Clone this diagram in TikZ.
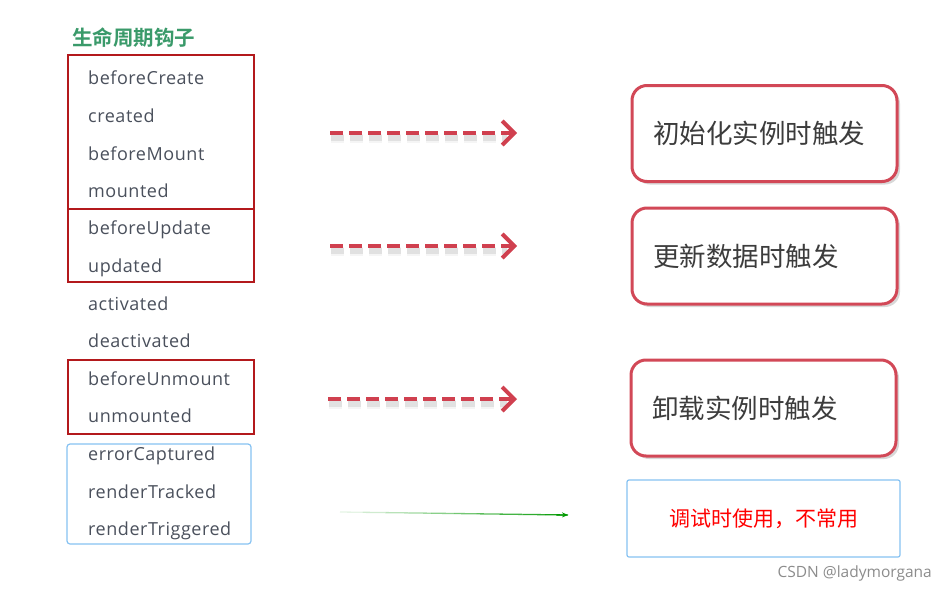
\documentclass[tikz,border=0pt]{standalone}
\usepackage{fontspec}
\setmainfont{Open Sans}
\newfontfamily\hookfont[LetterSpace=3]{Open Sans}
\newfontfamily\cjk{Noto Sans CJK SC}
\newfontfamily\cjkb{Noto Sans CJK SC Bold}
\usetikzlibrary{shadows,arrows.meta,calc}
\definecolor{hookgray}{HTML}{4A505C}
\definecolor{boxred}{HTML}{B3191C}
\definecolor{arrred}{HTML}{D0404F}
\definecolor{rbord}{HTML}{D24857}
\definecolor{lblue}{HTML}{86C2F2}
\definecolor{titlegreen}{HTML}{3A9A6A}
\definecolor{txtdark}{HTML}{3C3C3C}
\tikzset{
  hook/.style={anchor=base west, inner sep=0pt, text=hookgray, font=\hookfont\fontsize{18}{18}\selectfont},
  redframe/.style={draw=boxred, line width=2.8pt},
  dasharrow/.style={draw=arrred, line width=4pt, dash pattern=on 13pt off 6pt, -{Straight Barb[length=12pt,width=24pt,line width=4pt]}},
  dashshadow/.style={draw=black, line width=6pt, dash pattern=on 13pt off 6pt, opacity=0.08},
  eventbox/.style={draw=rbord, line width=3pt, rounded corners=15pt, fill=white, minimum width=265pt, minimum height=96pt, text width=223pt, align=left, text=txtdark, font=\cjk\fontsize{26.5}{26.5}\selectfont, drop shadow={shadow xshift=3pt, shadow yshift=-3pt, opacity=0.3}},
}
\begin{document}
\begin{tikzpicture}[x=1pt,y=-1pt]
\useasboundingbox (0,0) rectangle (946,592);
\fill[white] (0,0) rectangle (946,592);
\node[anchor=west, inner sep=0pt, text=titlegreen, font=\cjkb\fontsize{20.5}{20.5}\selectfont] (title) at (72,38) {生命周期钩子};
% frames
\draw[redframe] (68,55) rectangle (254,209);
\draw[redframe] (68,209) rectangle (254,282);
\draw[redframe] (68,360) rectangle (254,434);
\draw[draw=lblue, line width=1.2pt, rounded corners=3pt] (67,444) rectangle (251,544);
% hooks
\node[hook] (h1) at (88,84.5) {beforeCreate};
\node[hook] (h2) at (88,122.5) {created};
\node[hook] (h3) at (88,160.5) {beforeMount};
\node[hook] (h4) at (88,197.5) {mounted};
\node[hook] (h5) at (88,234.5) {beforeUpdate};
\node[hook] (h6) at (88,272.5) {updated};
\node[hook] (h7) at (88,310.5) {activated};
\node[hook] (h8) at (88,347.5) {deactivated};
\node[hook] (h9) at (88,385.5) {beforeUnmount};
\node[hook] (h10) at (88,422.5) {unmounted};
\node[hook] (h11) at (88,460.5) {errorCaptured};
\node[hook] (h12) at (88,498.5) {renderTracked};
\node[hook] (h13) at (88,535.5) {renderTriggered};
% event boxes
\node[eventbox] (e1) at (764.5,133.5) {初始化实例时触发};
\node[eventbox] (e2) at (764.5,256) {更新数据时触发};
\node[eventbox] (e3) at (763.5,408) {卸载实例时触发};
\node[draw=lblue, line width=1.2pt, rounded corners=2pt, minimum width=273pt, minimum height=77pt, text=red, font=\cjk\fontsize{21}{21}\selectfont] (e4) at (763.5,518.5) {调试时使用，不常用};
% arrows
\coordinate (a1s) at (330,133); \coordinate (a1e) at (517,133);
\coordinate (a2s) at (330,246); \coordinate (a2e) at (517,246);
\coordinate (a3s) at (328,399); \coordinate (a3e) at (517,399);
\foreach \s/\e in {a1s/a1e,a2s/a2e,a3s/a3e}{
  \draw[dashshadow] ([xshift=1pt,yshift=-5pt]\s) -- ([xshift=-10pt,yshift=-5pt]\e);
  \draw[dashshadow, line width=9pt, opacity=0.04] ([xshift=1pt,yshift=-5pt]\s) -- ([xshift=-10pt,yshift=-5pt]\e);
  \draw[dasharrow] (\s) -- (\e);
}
\coordinate (gs) at (340,512); \coordinate (ge) at (568,515);
\foreach \i in {0,...,9}{
  \pgfmathsetmacro{\op}{0.1+0.09*\i}
  \draw[line width=1.3pt, green!60!black, opacity=\op] ($(gs)!\i/10!(ge)$) -- ($(gs)!\i/10+0.1!(ge)$);
}
\draw[line width=1.3pt, green!60!black, -{Stealth[length=6pt,width=5pt]}] ($(gs)!0.95!(ge)$) -- (ge);
% watermark
\node[anchor=east, inner sep=0pt, text=black!45, font=\fontsize{15.5}{15.5}\selectfont] (wm) at (932,573) {CSDN @ladymorgana};
\end{tikzpicture}
\end{document}
